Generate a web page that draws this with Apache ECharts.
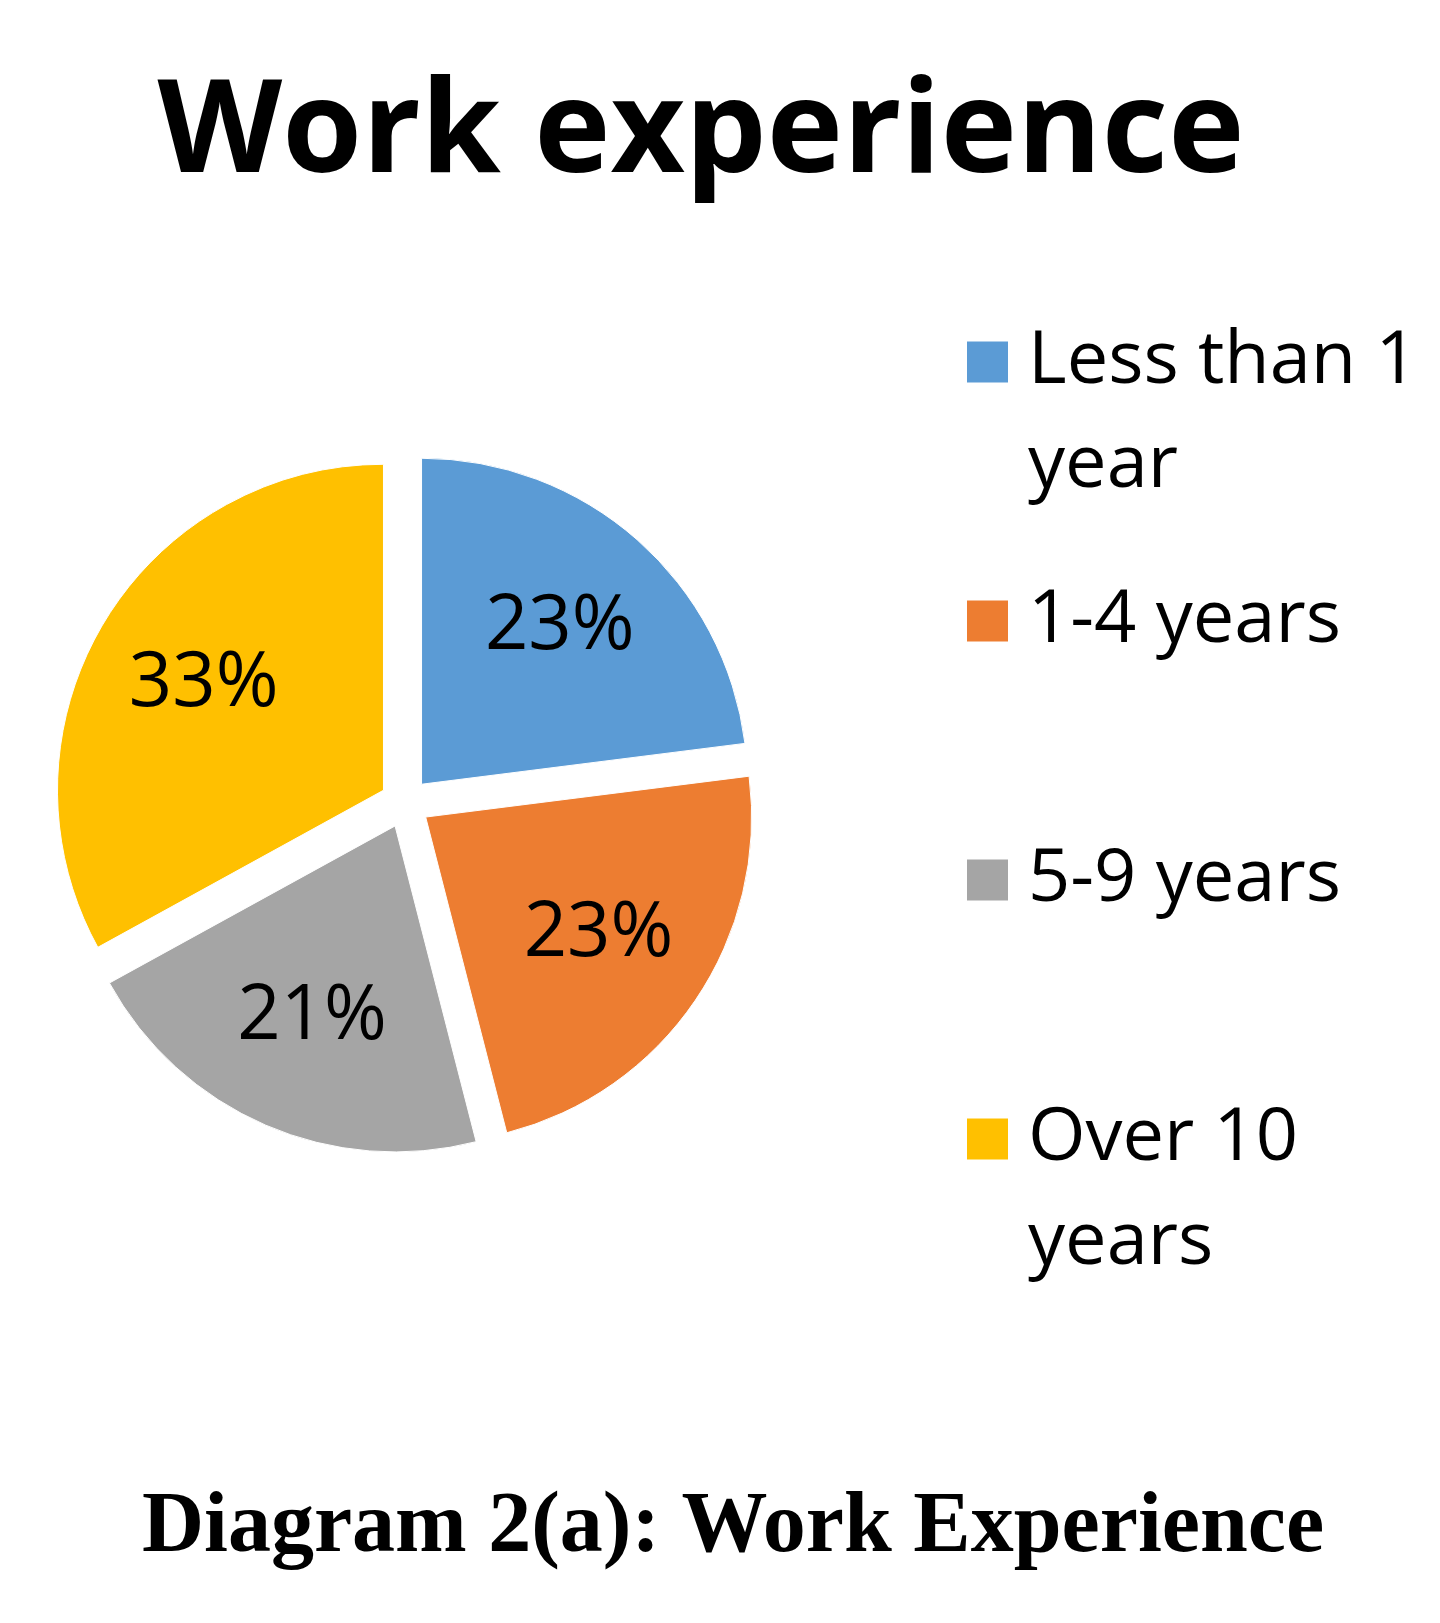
<!DOCTYPE html>
<html>
<head>
<meta charset="utf-8">
<script src="https://cdn.jsdelivr.net/npm/echarts@6/dist/echarts.min.js"></script>
<style>
  html, body { margin: 0; padding: 0; background: #ffffff; }
  #chart { width: 1440px; height: 1623px; }
</style>
</head>
<body>
<div id="chart"></div>
<script>
const categories = ['Less than 1 year', '1-4 years', '5-9 years', 'Over 10 years'];
const legendLabels = ['Less than 1\nyear', '1-4 years', '5-9 years', 'Over 10\nyears'];
const shares = [23, 23, 21, 33];
const sliceColors = ['#5B9BD5', '#ED7D31', '#A5A5A5', '#FFC000'];
const chartTitle = 'Work experience';
const captionText = 'Diagram 2(a): Work Experience';

const LINE_H = 104;
const sliceData = categories.map((name, i) => ({
  name: name,
  value: shares[i],
  selected: true,
  itemStyle: { color: sliceColors[i] }
}));
const labelData = categories.map((name, i) => ({
  name: name,
  value: shares[i],
  selected: true
}));
// Legend text is vertically centred on its icon; pad every entry to three lines
// so that the first text line sits level with the icon, as in the original.
function legendText(name) {
  const lines = legendLabels[categories.indexOf(name)].split('\n');
  const padded = ['', lines[0], lines.length > 1 ? lines[1] : ''];
  return padded.join('\n');
}

const chart = echarts.init(document.getElementById('chart'), null, { renderer: 'canvas' });
chart.setOption({
  backgroundColor: '#ffffff',
  animation: false,
  title: [
    {
      text: chartTitle,
      left: 701, top: 71, padding: 0, textAlign: 'center',
      textStyle: { fontFamily: 'Open Sans', fontWeight: 'bold', fontSize: 129, color: '#000000' }
    },
    {
      text: captionText,
      left: 733, top: 1486, padding: 0, textAlign: 'center',
      textStyle: { fontFamily: 'Liberation Serif', fontWeight: 'bold', fontSize: 86, color: '#000000' }
    }
  ],
  legend: {
    orient: 'vertical',
    left: 965, top: 206, padding: 0,
    itemWidth: 43, itemHeight: 43, itemGap: -53,
    icon: 'rect',
    selectedMode: false,
    data: categories,
    formatter: legendText,
    textStyle: { fontFamily: 'Open Sans', fontSize: 74, color: '#000000', lineHeight: LINE_H, padding: [0, 0, 0, 14] }
  },
  series: [
    {
      type: 'pie',
      name: 'slices',
      center: [405, 803],
      radius: [0, 326],
      startAngle: 90,
      clockwise: true,
      selectedMode: 'multiple',
      selectedOffset: 25,
      silent: true,
      avoidLabelOverlap: false,
      label: { show: false },
      labelLine: { show: false },
      itemStyle: { borderColor: '#ffffff', borderWidth: 1 },
      emphasis: { disabled: true },
      data: sliceData
    },
    {
      type: 'pie',
      name: 'labels',
      center: [405, 803],
      radius: [0, 412],
      startAngle: 90,
      clockwise: true,
      selectedMode: 'multiple',
      selectedOffset: 25,
      silent: true,
      legendHoverLink: false,
      avoidLabelOverlap: false,
      itemStyle: { color: 'rgba(0,0,0,0)' },
      label: {
        show: true,
        position: 'inside',
        formatter: p => p.value + '%',
        fontFamily: 'Open Sans', fontSize: 76, color: '#000000'
      },
      labelLine: { show: false },
      emphasis: { disabled: true },
      data: labelData
    }
  ]
});
</script>
</body>
</html>
